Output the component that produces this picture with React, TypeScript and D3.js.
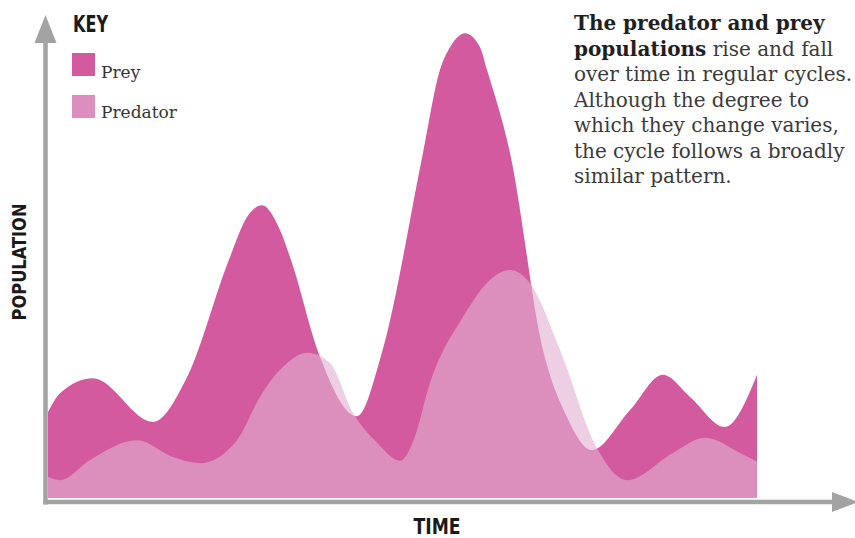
import React, { useEffect, useRef } from 'react';
import * as d3 from 'd3';

// prey population (time units, population 0-100)
const preyTime = [0, 1.2, 4.5, 10.5, 13.9, 18.2, 19.9, 21.4, 23.2, 24.2, 27.2, 30.9, 33.4, 37.5, 39.2, 40.2, 41.7, 43.2, 43.9, 46.2, 49.5, 51.9, 54.4, 58.2, 61.5, 64.2, 67.7, 70.9];
const preyPop = [18.3, 22.3, 25.5, 16.2, 25.7, 51.3, 59.8, 62.3, 57.0, 51.3, 30, 17.4, 31, 73.4, 91.1, 95.9, 98.9, 95.9, 91.1, 73.4, 31.5, 17.2, 10.2, 18.7, 26.2, 21.5, 15.1, 26.2];

// predator population
const predTime = [0, 1.2, 4.2, 8.9, 12.5, 15.2, 18.9, 21.2, 23.5, 26, 28.2, 30.5, 32.9, 35.2, 36.6, 38.2, 41.5, 44.2, 46.2, 48.2, 51.2, 54.9, 57.9, 62.5, 65.7, 69.2, 70.9];
const predPop = [4.5, 3.8, 8.1, 12.3, 8.7, 7.4, 12.3, 21.5, 27.9, 30.9, 28.7, 18.1, 11.8, 7.9, 12.5, 24.5, 38.5, 46.4, 48.5, 45.7, 31.5, 10.6, 3.8, 9.6, 12.8, 9.6, 7.7];

const keyLabels = ['Prey', 'Predator'];
const noteLines = [
  [{ t: 'The predator and prey', b: true }],
  [{ t: 'populations', b: true }, { t: ' rise and fall', b: false }],
  [{ t: 'over time in regular cycles.', b: false }],
  [{ t: 'Although the degree to', b: false }],
  [{ t: 'which they change varies,', b: false }],
  [{ t: 'the cycle follows a broadly', b: false }],
  [{ t: 'similar pattern.', b: false }],
];

export default function App() {
  const ref = useRef(null);

  useEffect(() => {
    const svg = d3.select(ref.current);
    svg.selectAll('*').remove();

    const width = 855;
    const height = 538;
    const axisColor = '#a3a3a3';
    const preyColor = '#d35a9e';
    const predColor = 'rgb(226,176,208)';
    const predOpacity = 0.62;
    const serif = '"DejaVu Serif", serif';
    const narrow = '"Liberation Sans Narrow", "DejaVu Sans Condensed", "DejaVu Sans", sans-serif';

    svg.attr('width', width).attr('height', height);

    const x = d3.scaleLinear().domain([0, 71]).range([48, 758]);
    const y = d3.scaleLinear().domain([0, 100]).range([498, 28]);

    const prey = preyTime.map((t, i) => ({ t, v: preyPop[i] }));
    const pred = predTime.map((t, i) => ({ t, v: predPop[i] }));

    const area = d3.area()
      .curve(d3.curveMonotoneX)
      .x(d => x(d.t))
      .y0(y(0))
      .y1(d => y(d.v));

    svg.append('path').datum(prey).attr('fill', preyColor).attr('d', area);
    svg.append('path').datum(pred)
      .attr('fill', predColor)
      .attr('fill-opacity', predOpacity)
      .attr('d', area);

    // axes with arrow heads
    const ax = 45.5;
    const ay = 502;
    svg.append('line')
      .attr('x1', ax).attr('x2', ax).attr('y1', ay + 2.5).attr('y2', 40)
      .attr('stroke', axisColor).attr('stroke-width', 4.5);
    svg.append('path')
      .attr('d', `M${ax - 11},43 L${ax},15 L${ax + 11},43 Z`)
      .attr('fill', axisColor);
    svg.append('line')
      .attr('x1', ax - 2.25).attr('x2', 834).attr('y1', ay).attr('y2', ay)
      .attr('stroke', axisColor).attr('stroke-width', 4.5);
    svg.append('path')
      .attr('d', `M832,${ay - 10} L858,${ay} L832,${ay + 10} Z`)
      .attr('fill', axisColor);

    svg.append('text')
      .attr('x', 437).attr('y', 534)
      .attr('text-anchor', 'middle')
      .attr('font-family', narrow).attr('font-weight', 'bold').attr('font-size', 22)
      .attr('fill', '#1a1a1a')
      .attr('textLength', 47).attr('lengthAdjust', 'spacingAndGlyphs')
      .text('TIME');

    svg.append('text')
      .attr('transform', 'translate(26,262) rotate(-90)')
      .attr('text-anchor', 'middle')
      .attr('font-family', narrow).attr('font-weight', 'bold').attr('font-size', 19)
      .attr('fill', '#1a1a1a')
      .attr('textLength', 117).attr('lengthAdjust', 'spacingAndGlyphs')
      .text('POPULATION');

    // key
    svg.append('text')
      .attr('x', 73).attr('y', 32)
      .attr('font-family', narrow).attr('font-weight', 'bold').attr('font-size', 23)
      .attr('fill', '#1a1a1a')
      .attr('textLength', 35).attr('lengthAdjust', 'spacingAndGlyphs')
      .text('KEY');

    const keyColors = [preyColor, 'rgb(220,143,190)'];
    keyLabels.forEach((k, i) => {
      svg.append('rect')
        .attr('x', 72).attr('y', 53 + i * 42).attr('width', 23).attr('height', 23)
        .attr('fill', keyColors[i]);
      svg.append('text')
        .attr('x', 101).attr('y', 78 + i * 40)
        .attr('font-family', serif).attr('font-size', 17)
        .attr('fill', '#333')
        .text(k);
    });

    // note on the right
    const note = svg.append('text')
      .attr('font-family', serif).attr('font-size', 20);
    noteLines.forEach((line, i) => {
      const row = note.append('tspan').attr('x', 574).attr('y', 30 + i * 25.5);
      line.forEach((part, j) => {
        const s = j === 0 ? row : note.append('tspan');
        s.text(part.t)
          .attr('font-weight', part.b ? 'bold' : 'normal')
          .attr('fill', part.b ? '#1f1f1f' : '#3a3a3a');
      });
    });
  }, []);

  return (
    <svg ref={ref} style={{ position: 'absolute', left: 0, top: 0, background: '#fff' }}></svg>
  );
}
